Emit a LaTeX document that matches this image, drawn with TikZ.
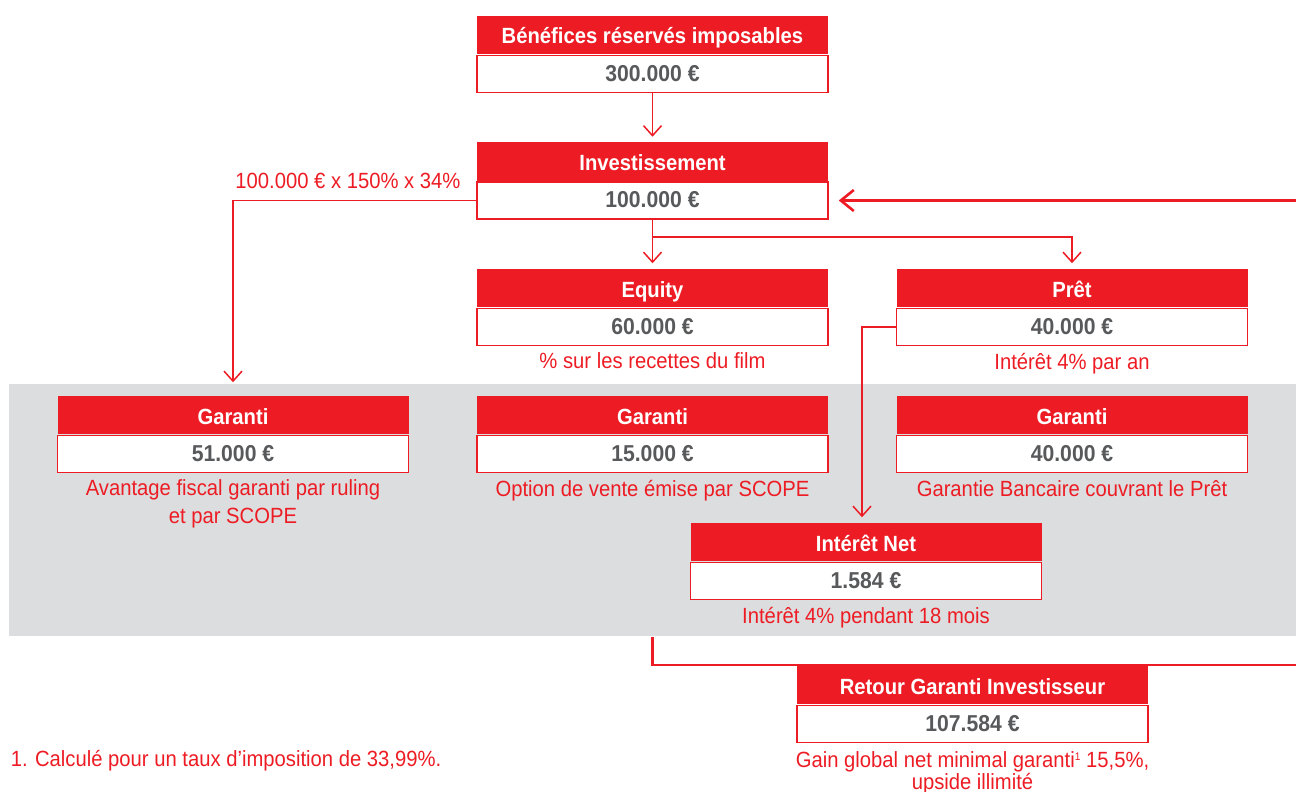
\documentclass[tikz,border=0pt]{standalone}
\usepackage{fontspec}
\setmainfont{Liberation Sans}[FakeStretch=0.92]
\usepackage{xcolor}
\usepackage{tikz}
\usetikzlibrary{positioning,arrows.meta}
\definecolor{scopered}{HTML}{ED1C24}
\definecolor{bandgrey}{HTML}{DCDDDE}
\definecolor{valgrey}{HTML}{58595B}
\def\boxwidth{175.5pt}

\begin{document}
\begin{tikzpicture}[x=0.5pt,y=-0.5pt,shorten >=2.5pt,line width=0.75pt]
    \tikzstyle{head}=[fill=scopered,text=white,font=\fontsize{11}{13}\selectfont\bfseries,minimum width=\boxwidth,minimum height=19pt,inner sep=0pt,text height=10pt,text depth=1pt]
    \tikzstyle{value}=[draw=scopered,fill=white,text=valgrey,font=\fontsize{11.5}{13}\selectfont\bfseries,minimum width=\boxwidth,minimum height=18.5pt,inner sep=0pt,text height=9pt,text depth=1.7pt]
    \tikzstyle{caption}=[text=scopered,font=\fontsize{11}{14}\selectfont,align=center,inner sep=1pt]
    \tikzstyle{link}=[draw=scopered,-{Straight Barb[length=5pt,width=9pt]}]
    \tikzstyle{return}=[draw=scopered,line width=1.3pt,-{Straight Barb[length=6.5pt,width=10.5pt]},shorten >=5pt]

    \useasboundingbox (0,0) rectangle (1296,792);

    % Grey band behind the guarantees
    \node[fill=bandgrey,minimum width=643.5pt,minimum height=126pt,inner sep=0pt] (band) at (652.5,510) {};

    % Top of the chain
    \node[head] (benef) at (652.5,35) {Bénéfices réservés imposables};
    \node[value,below=0pt of benef] (benef-v) {300.000 €};

    \node[head] (invest) at (652.5,161.5) {Investissement};
    \node[value,below=0pt of invest] (invest-v) {100.000 €};
    \node[caption] (calc) at (348,181) {100.000 € x 150\% x 34\%};

    \node[head] (equity) at (652.5,288) {Equity};
    \node[value,below=0pt of equity] (equity-v) {60.000 €};
    \node[caption,below=2pt of equity-v] (equity-c) {\% sur les recettes du film};

    \node[head] (pret) at (1072,288) {Prêt};
    \node[value,below=0pt of pret] (pret-v) {40.000 €};
    \node[caption,below=2pt of pret-v] (pret-c) {Intérêt 4\% par an};

    % Draw the guarantees
    \foreach \name / \x / \val / \txt in {1/233/51.000/{Avantage fiscal garanti par ruling\\et par SCOPE},
        2/652.5/15.000/{Option de vente émise par SCOPE},
        3/1072/40.000/{Garantie Bancaire couvrant le Prêt}}
    {
        \node[head] (gar-\name) at (\x,415) {Garanti};
        \node[value,below=0pt of gar-\name] (gar-\name-v) {\val~€};
        \node[caption,below=2pt of gar-\name-v] (gar-\name-c) {\txt};
    }

    \node[head] (net) at (866,542) {Intérêt Net};
    \node[value,below=0pt of net] (net-v) {1.584 €};
    \node[caption,below=2pt of net-v] (net-c) {Intérêt 4\% pendant 18 mois};

    \node[head] (retour) at (972.5,685) {Retour Garanti Investisseur};
    \node[value,below=0pt of retour] (retour-v) {107.584 €};
    \node[caption,below=3pt of retour-v,font=\fontsize{11}{11}\selectfont] (retour-c) {Gain global net minimal garanti\raisebox{3.5pt}{\fontsize{5.5}{6}\selectfont 1} 15,5\%,\\upside illimité};

    \node[caption,anchor=west,align=left] (note) at (8,761) {1. Calculé pour un taux d’imposition de 33,99\%.};

    % Connect the boxes
    \coordinate (split) at (652.5,237);
    \draw[link] (benef-v) -- (invest);
    \draw[link] (invest-v) -- (equity);
    \draw[link] (split) -| (pret);
    \draw[link,shorten >=0.5pt] (invest-v.west) -| (gar-1 |- band.north);
    \draw[link] (pret-v.west) -| ([xshift=-2pt]net.north);

    % Return loop along the right edge
    \coordinate (edge-low) at (1300,665);
    \coordinate (edge-high) at (invest-v.east -| edge-low);
    \draw[return] (invest |- band.south) |- (edge-low) -- (edge-high) -- (invest-v.east);

\end{tikzpicture}
\end{document}
